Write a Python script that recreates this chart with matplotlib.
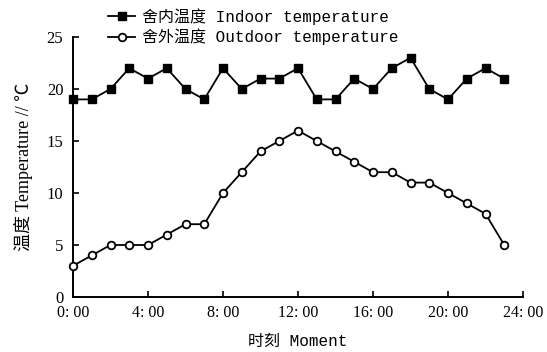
import matplotlib
matplotlib.use("Agg")
import matplotlib.pyplot as plt

hours = list(range(24))
indoor = [19, 19, 20, 22, 21, 22, 20, 19, 22, 20, 21, 21, 22, 19, 19, 21, 20, 22, 23, 20, 19, 21, 22, 21]
outdoor = [3, 4, 5, 5, 5, 6, 7, 7, 10, 12, 14, 15, 16, 15, 14, 13, 12, 12, 11, 11, 10, 9, 8, 5]
xticks = [0, 4, 8, 12, 16, 20, 24]
xticklabels = ["0: 00", "4: 00", "8: 00", "12: 00", "16: 00", "20: 00", "24: 00"]
yticks = [0, 5, 10, 15, 20, 25]
label_indoor = "舍内温度 Indoor temperature"
label_outdoor = "舍外温度 Outdoor temperature"
xlabel = "时刻 Moment"
ylabel = "温度 Temperature // ℃"

mono = ["Liberation Mono", "Noto Sans CJK SC", "DejaVu Sans"]
serif = ["Liberation Serif", "Noto Sans CJK SC", "DejaVu Sans"]

fig = plt.figure(figsize=(5.47, 3.52), dpi=100)
ax = fig.add_axes([73/547, 1-297/352, (523-73)/547, (297-37)/352])

ax.plot(hours, indoor, color="black", lw=1.3, marker="s", ms=5.5,
        mfc="black", mec="black", label=label_indoor, clip_on=False, zorder=3)
ax.plot(hours, outdoor, color="black", lw=1.3, marker="o", ms=5.5,
        mfc="white", mec="black", mew=1.3, label=label_outdoor, clip_on=False, zorder=3)

ax.set_xlim(0, 24)
ax.set_ylim(0, 25)
ax.set_xticks(xticks)
ax.set_xticklabels(xticklabels, family=serif, fontsize=11.5)
ax.set_yticks(yticks)
ax.set_yticklabels([str(v) for v in yticks], family=serif, fontsize=12)
ax.tick_params(axis="both", direction="in", length=4, width=1.2, color="black")
ax.tick_params(axis="x", pad=6)
ax.tick_params(axis="y", pad=7)

for s in ["top", "right"]:
    ax.spines[s].set_visible(False)
for s in ["left", "bottom"]:
    ax.spines[s].set_linewidth(1.4)

ax.set_xlabel(xlabel, family=mono, fontsize=11.5, labelpad=9)
ax.set_ylabel(ylabel, family=serif, fontsize=13, labelpad=10)

leg = fig.legend(loc="upper left", bbox_to_anchor=(108/547, 1-8/352),
                 frameon=False, prop={"family": mono, "size": 11.5},
                 handlelength=1.7, handletextpad=0.4, labelspacing=0.25,
                 borderaxespad=0, borderpad=0)

fig.savefig("out.png", dpi=100)
